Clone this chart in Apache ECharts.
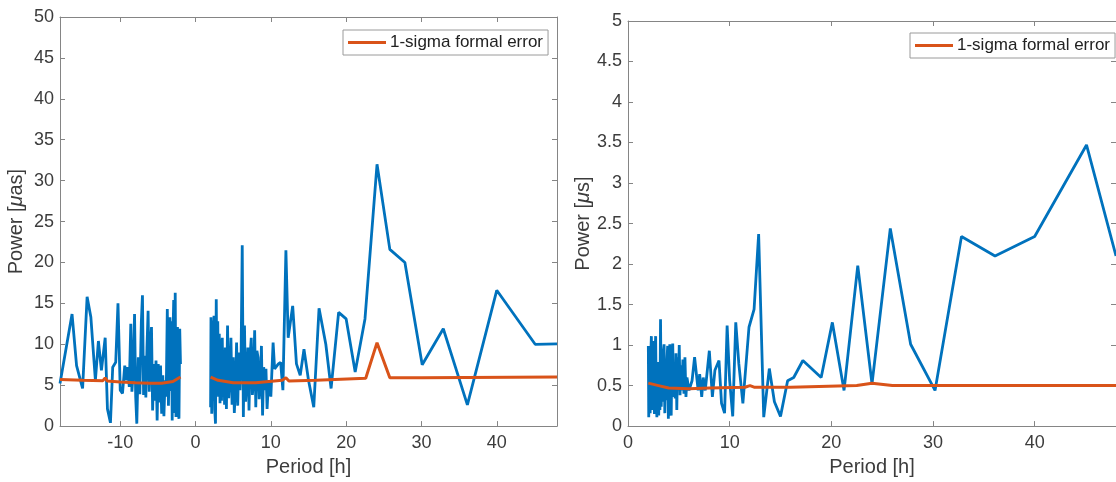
<!DOCTYPE html>
<html>
<head>
<meta charset="utf-8">
<script src="https://cdn.jsdelivr.net/npm/echarts@6/dist/echarts.min.js"></script>
<style>
  html, body { margin: 0; padding: 0; background: #fff; }
  #chart { width: 1116px; height: 482px; }
</style>
</head>
<body>
<div id="chart"></div>
<script>
// left panel: astrometric power vs period (negative + positive periods)
var leftPower = [
  [-18, 5.2], [-16.4, 13.7], [-15.8, 7.4], [-15.0, 4.6], [-14.4, 15.8], [-13.9, 13.3],
  [-13.3, 5.6], [-12.9, 10.4], [-12.5, 6.8], [-12.0, 10.8], [-11.7, 2.1], [-11.3, 0.4],
  [-11.0, 7.2], [-10.6, 7.8], [-10.3, 15.0], [-10.0, 4.4], [-9.7, 4.0], [-9.4, 7.4],
  [-9.2, 5.6], [-9.0, 7.2], [-8.8, 4.8], [-8.6, 12.5], [-8.45, 4.2], [-8.3, 6.4],
  [-8.1, 13.7], [-7.95, 3.6], [-7.8, 0.3], [-7.6, 8.4], [-7.4, 3.9], [-7.2, 12.7],
  [-7.05, 16.0], [-6.9, 3.8], [-6.75, 8.6], [-6.6, 3.5], [-6.45, 9.6], [-6.3, 14.1],
  [-6.15, 4.2], [-6.0, 9.4], [-5.85, 12.1], [-5.7, 1.9], [-5.55, 7.6], [-5.4, 3.1],
  [-5.25, 8.0], [-5.1, 0.7], [-4.95, 7.6], [-4.8, 2.9], [-4.65, 7.4], [-4.5, 1.5],
  [-4.35, 6.2], [-4.2, 1.2], [-4.05, 5.6], [-3.9, 3.6], [-3.75, 14.3], [-3.6, 2.5],
  [-3.5, 7.6], [-3.4, 13.3], [-3.3, 4.3], [-3.2, 12.8], [-3.1, 0.7], [-3.0, 11.0],
  [-2.9, 15.4], [-2.8, 1.6], [-2.7, 16.3], [-2.6, 1.1], [-2.5, 11.5], [-2.4, 12.1],
  [-2.3, 1.8], [-2.2, 0.9], [-2.1, 11.9], [-2.0, 7.6], [0, null],
  [2.0, 2.3], [2.05, 13.3], [2.15, 1.5], [2.25, 12.9], [2.35, 3.1], [2.45, 13.5],
  [2.55, 2.0], [2.65, 0.3], [2.75, 15.5], [2.85, 4.0], [2.95, 12.8], [3.05, 3.6],
  [3.15, 11.3], [3.25, 2.8], [3.35, 10.6], [3.45, 3.1], [3.55, 10.8], [3.65, 3.6],
  [3.75, 9.2], [3.85, 2.6], [3.95, 9.6], [4.1, 2.1], [4.25, 12.3], [4.4, 3.4],
  [4.55, 6.0], [4.7, 10.8], [4.85, 2.6], [5.0, 8.4], [5.15, 1.6], [5.3, 4.8],
  [5.45, 10.2], [5.6, 2.5], [5.75, 9.0], [5.9, 4.4], [6.05, 8.8], [6.2, 22.1],
  [6.35, 1.1], [6.5, 12.3], [6.65, 3.0], [6.8, 5.6], [6.95, 9.6], [7.1, 1.9],
  [7.25, 8.6], [7.4, 10.8], [7.55, 3.8], [7.7, 5.6], [7.85, 11.7], [8.0, 2.3],
  [8.15, 9.2], [8.3, 8.4], [8.45, 3.3], [8.6, 5.2], [8.75, 9.8], [8.9, 1.3],
  [9.05, 7.2], [9.2, 4.4], [9.35, 7.0], [9.5, 2.1], [9.7, 5.6], [10.0, 3.6],
  [10.3, 10.2], [10.5, 7.0], [11.0, 7.6], [11.3, 7.8], [11.6, 4.4], [12.0, 21.5],
  [12.3, 10.8], [12.9, 14.7], [13.4, 7.6], [13.9, 6.2], [14.4, 9.4], [15.0, 5.6],
  [15.7, 2.3], [16.4, 14.4], [17.3, 10.0], [18.0, 4.6], [19.0, 13.9], [20.0, 13.1],
  [21.2, 6.6], [22.5, 13.1], [24.1, 32.0], [25.8, 21.6], [27.8, 20.0], [30.1, 7.5],
  [32.9, 11.9], [36.1, 2.6], [40.0, 16.6], [45.1, 10.0], [48, 10.05]
];
var leftError = [
  [-18, 5.7], [-15, 5.6], [-12.3, 5.55], [-12.0, 5.9], [-11.7, 5.5], [-10, 5.4],
  [-8, 5.3], [-6, 5.25], [-4.5, 5.25], [-3, 5.45], [-2, 6.0], [0, null],
  [2, 6.0], [3, 5.6], [5, 5.3], [8, 5.3], [11.5, 5.6], [12.0, 5.9], [12.4, 5.5],
  [16, 5.6], [22.6, 5.85], [24.1, 10.2], [25.8, 5.9], [30, 5.9], [48, 6.0]
];

// right panel: timing power vs period
var rightPower = [
  [2.0, 0.99], [2.04, 0.11], [2.08, 0.97], [2.13, 0.42], [2.18, 0.16], [2.24, 0.88],
  [2.3, 1.11], [2.36, 0.2], [2.42, 0.7], [2.48, 1.05], [2.54, 0.36], [2.6, 0.15],
  [2.66, 0.9], [2.72, 1.11], [2.78, 0.3], [2.84, 0.11], [2.9, 0.65], [2.96, 0.79],
  [3.02, 0.13], [3.08, 0.55], [3.14, 0.2], [3.2, 1.32], [3.27, 0.24], [3.34, 0.77],
  [3.41, 0.3], [3.48, 0.92], [3.55, 1.01], [3.62, 0.16], [3.69, 0.69], [3.76, 0.32],
  [3.83, 0.8], [3.9, 0.99], [3.97, 0.09], [4.04, 0.6], [4.11, 1.01], [4.18, 0.25],
  [4.25, 0.13], [4.32, 0.85], [4.4, 1.02], [4.48, 0.36], [4.56, 0.77], [4.64, 0.34],
  [4.72, 0.9], [4.8, 0.2], [4.88, 0.85], [4.96, 0.44], [5.04, 1.0], [5.12, 0.38],
  [5.2, 0.75], [5.3, 0.44], [5.4, 0.82], [5.5, 0.4], [5.6, 0.85], [5.7, 0.36],
  [5.8, 0.6], [6.0, 0.44], [6.3, 0.56], [6.55, 0.85], [6.7, 0.87], [6.9, 0.44],
  [7.05, 0.64], [7.25, 0.36], [7.4, 0.6], [7.6, 0.44], [8.0, 0.93], [8.3, 0.36],
  [8.55, 0.69], [8.95, 0.81], [9.2, 0.28], [9.5, 0.16], [9.75, 1.24], [10.0, 0.56],
  [10.3, 0.12], [10.6, 1.28], [10.9, 0.77], [11.3, 0.28], [11.9, 1.22], [12.4, 1.44],
  [12.85, 2.37], [13.35, 0.11], [13.9, 0.71], [14.4, 0.3], [15.0, 0.12], [15.7, 0.56],
  [16.3, 0.6], [17.2, 0.81], [19.0, 0.6], [20.1, 1.28], [21.25, 0.44], [22.6, 1.98],
  [24.0, 0.52], [25.8, 2.44], [27.8, 1.01], [30.2, 0.44], [32.8, 2.34], [36.1, 2.1],
  [40.0, 2.34], [45.1, 3.47], [48, 2.1]
];
var rightError = [
  [2, 0.53], [3, 0.5], [4, 0.47], [6, 0.46], [8, 0.47], [11.5, 0.48], [12, 0.5],
  [12.4, 0.48], [16, 0.48], [22.5, 0.5], [24, 0.53], [26, 0.5], [48, 0.5]
];

var leftXTicks = [-10, 0, 10, 20, 30, 40];
var rightXTicks = [0, 10, 20, 30, 40];
var legendName = '1-sigma formal error';

var font = 'Liberation Sans, Arial, Helvetica, sans-serif';
var axisGray = '#858585';
var textGray = '#3c3c3c';

function xAx(idx, min, max, ticks, pos, name) {
  return {
    type: 'value', gridIndex: idx, position: pos, min: min, max: max,
    name: name || '', nameLocation: 'middle', nameGap: 30,
    nameTextStyle: { fontFamily: font, fontSize: 20, color: textGray },
    axisLine: { show: true, onZero: false, lineStyle: { color: axisGray, width: 1 } },
    axisTick: { show: true, inside: true, length: 5, customValues: ticks, lineStyle: { color: axisGray } },
    axisLabel: { show: pos === 'bottom', customValues: ticks, margin: 8, fontFamily: font, fontSize: 18, color: textGray },
    splitLine: { show: false }
  };
}
function yAx(idx, max, step, pos, name) {
  return {
    type: 'value', gridIndex: idx, position: pos, min: 0, max: max, interval: step,
    name: name || '', nameLocation: 'middle', nameGap: 34, nameRotate: 90,
    nameTextStyle: {
      fontFamily: font, fontSize: 20, color: textGray,
      rich: { i: { fontFamily: font, fontSize: 20, fontStyle: 'italic', color: textGray } }
    },
    axisLine: { show: true, onZero: false, lineStyle: { color: axisGray, width: 1 } },
    axisTick: { show: true, inside: true, length: 5, lineStyle: { color: axisGray } },
    axisLabel: { show: pos === 'left', margin: 6, fontFamily: font, fontSize: 18, color: textGray },
    splitLine: { show: false }
  };
}
function legendAt(left, top) {
  return {
    left: left, top: top, data: [legendName],
    icon: 'rect', itemWidth: 38, itemHeight: 3, itemGap: 4,
    backgroundColor: '#fff', borderColor: '#9a9a9a', borderWidth: 1, borderRadius: 0,
    padding: [4, 5, 4, 5],
    textStyle: { fontFamily: font, fontSize: 17, color: '#222', padding: [0, 0, 0, -1] }
  };
}

var chart = echarts.init(document.getElementById('chart'));
chart.setOption({
  backgroundColor: '#fff',
  animation: false,
  grid: [
    { left: 60, top: 17, width: 497, height: 413 },
    { left: 628, top: 21, width: 494, height: 409 }
  ],
  xAxis: [
    xAx(0, -18, 48, leftXTicks, 'bottom', 'Period [h]'),
    xAx(0, -18, 48, leftXTicks, 'top'),
    xAx(1, 0, 48, rightXTicks, 'bottom', 'Period [h]'),
    xAx(1, 0, 48, rightXTicks, 'top')
  ],
  yAxis: [
    yAx(0, 50, 5, 'left', 'Power [{i|μ}as]'),
    yAx(0, 50, 5, 'right'),
    yAx(1, 5, 0.5, 'left', 'Power [{i|μ}s]'),
    yAx(1, 5, 0.5, 'right')
  ],
  legend: [legendAt(343, 30), legendAt(910, 33)],
  series: [
    { name: 'power-left', type: 'line', xAxisIndex: 0, yAxisIndex: 0, data: leftPower,
      symbol: 'none', connectNulls: false, lineStyle: { color: '#0072BD', width: 2.8 } },
    { name: legendName, type: 'line', xAxisIndex: 0, yAxisIndex: 0, data: leftError,
      symbol: 'none', connectNulls: false, itemStyle: { color: '#D95319' },
      lineStyle: { color: '#D95319', width: 3 } },
    { name: 'power-right', type: 'line', xAxisIndex: 2, yAxisIndex: 2, data: rightPower,
      symbol: 'none', lineStyle: { color: '#0072BD', width: 2.8 } },
    { name: legendName, type: 'line', xAxisIndex: 2, yAxisIndex: 2, data: rightError,
      symbol: 'none', itemStyle: { color: '#D95319' },
      lineStyle: { color: '#D95319', width: 3 } }
  ]
});
</script>
</body>
</html>
